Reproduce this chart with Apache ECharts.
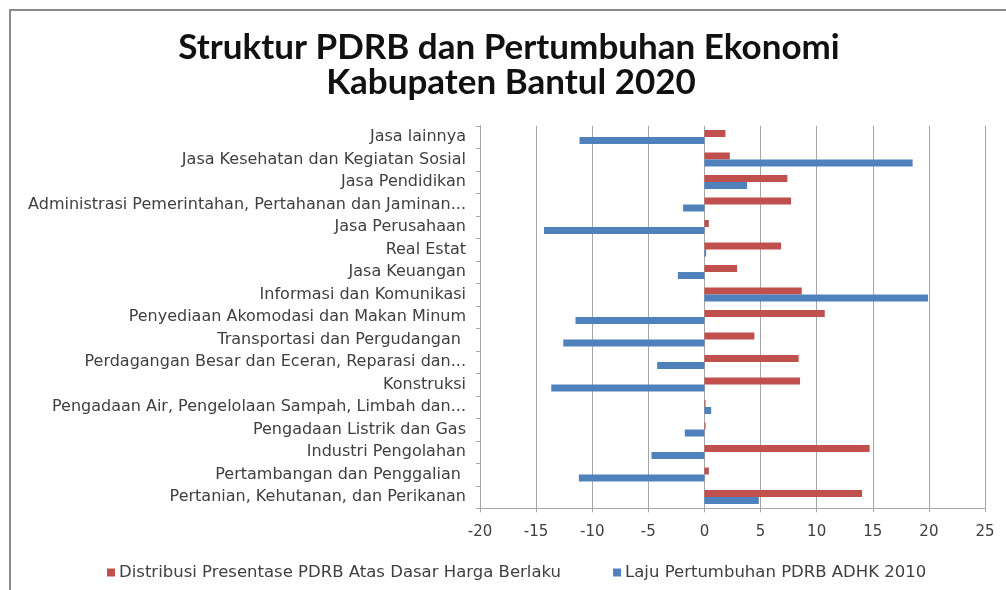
<!DOCTYPE html>
<html>
<head>
<meta charset="utf-8">
<script src="https://cdn.jsdelivr.net/npm/echarts@6/dist/echarts.min.js"></script>
<style>
  html, body { margin: 0; padding: 0; background: #fff; }
  #chart { width: 1006px; height: 590px; }
</style>
</head>
<body>
<div id="chart"></div>
<script>
// Sectors, listed from the bottom of the axis to the top
const categories = [
  'Pertanian, Kehutanan, dan Perikanan',
  'Pertambangan dan Penggalian ',
  'Industri Pengolahan',
  'Pengadaan Listrik dan Gas',
  'Pengadaan Air, Pengelolaan Sampah, Limbah dan...',
  'Konstruksi',
  'Perdagangan Besar dan Eceran, Reparasi dan...',
  'Transportasi dan Pergudangan ',
  'Penyediaan Akomodasi dan Makan Minum',
  'Informasi dan Komunikasi',
  'Jasa Keuangan',
  'Real Estat',
  'Jasa Perusahaan',
  'Administrasi Pemerintahan, Pertahanan dan Jaminan...',
  'Jasa Pendidikan',
  'Jasa Kesehatan dan Kegiatan Sosial',
  'Jasa lainnya'
];

// Share of GRDP at current prices (%)
const distribusi = [14.04, 0.39, 14.72, 0.10, 0.10, 8.52, 8.40, 4.45, 10.72, 8.67, 2.91, 6.83, 0.39, 7.72, 7.39, 2.26, 1.87];

// GRDP growth at constant 2010 prices (%)
const laju = [4.84, -11.19, -4.72, -1.75, 0.60, -13.65, -4.21, -12.58, -11.49, 19.92, -2.37, 0.15, -14.30, -1.90, 3.80, 18.55, -11.13];

const seriesNames = [
  'Distribusi Presentase PDRB Atas Dasar Harga Berlaku',
  'Laju Pertumbuhan PDRB ADHK 2010'
];

const titleLines = ['Struktur PDRB dan Pertumbuhan Ekonomi', 'Kabupaten Bantul 2020'];

const TITLE_FONT = 'Lato, "Open Sans", sans-serif';
const FONT = '"DejaVu Sans", "Open Sans", sans-serif';

const titleStyle = (text) => ({
  text: text,
  fill: '#111111',
  font: 'bold 35px ' + TITLE_FONT,
  textAlign: 'center',
  textVerticalAlign: 'middle'
});

const chart = echarts.init(document.getElementById('chart'));
chart.setOption({
  animation: false,
  backgroundColor: '#ffffff',
  graphic: [
    {
      type: 'rect',
      shape: { x: 10, y: 10, width: 1200, height: 800 },
      style: { fill: 'none', stroke: '#8c8c8c', lineWidth: 2 },
      silent: true
    },
    { type: 'text', x: 509, y: 48, style: titleStyle(titleLines[0]), silent: true },
    { type: 'text', x: 511, y: 83, style: titleStyle(titleLines[1]), silent: true }
  ],
  legend: {
    left: 102,
    top: 559,
    itemWidth: 8,
    itemHeight: 8,
    itemGap: 52,
    icon: 'rect',
    textStyle: { fontFamily: FONT, fontSize: 16.5, color: '#404040', padding: [0, 0, 0, -1] },
    data: seriesNames
  },
  grid: {
    left: 480,
    right: 21,
    top: 125.75,
    bottom: 81.75,
    containLabel: false
  },
  xAxis: {
    type: 'value',
    min: -20,
    max: 25,
    interval: 5,
    axisLine: { show: true, onZero: false, lineStyle: { color: '#a6a6a6', width: 1 } },
    axisTick: { show: true, length: 4, lineStyle: { color: '#a6a6a6' } },
    axisLabel: { fontFamily: FONT, fontSize: 15, color: '#404040', margin: 16 },
    splitLine: { show: true, lineStyle: { color: '#a6a6a6', width: 1 } }
  },
  yAxis: {
    type: 'category',
    data: categories,
    axisLine: { show: true, onZero: false, lineStyle: { color: '#a6a6a6', width: 1 } },
    axisTick: { show: true, length: 4, alignWithLabel: false, lineStyle: { color: '#a6a6a6' } },
    axisLabel: { fontFamily: FONT, fontSize: 16, color: '#404040', margin: 14, interval: 0 },
    splitLine: { show: false }
  },
  series: [
    {
      name: seriesNames[0],
      type: 'bar',
      data: distribusi,
      barWidth: 7,
      barGap: '0%',
      itemStyle: { color: '#C0504D' }
    },
    {
      name: seriesNames[1],
      type: 'bar',
      data: laju,
      barWidth: 7,
      barGap: '0%',
      itemStyle: { color: '#4F81BD' }
    }
  ]
});
</script>
</body>
</html>
